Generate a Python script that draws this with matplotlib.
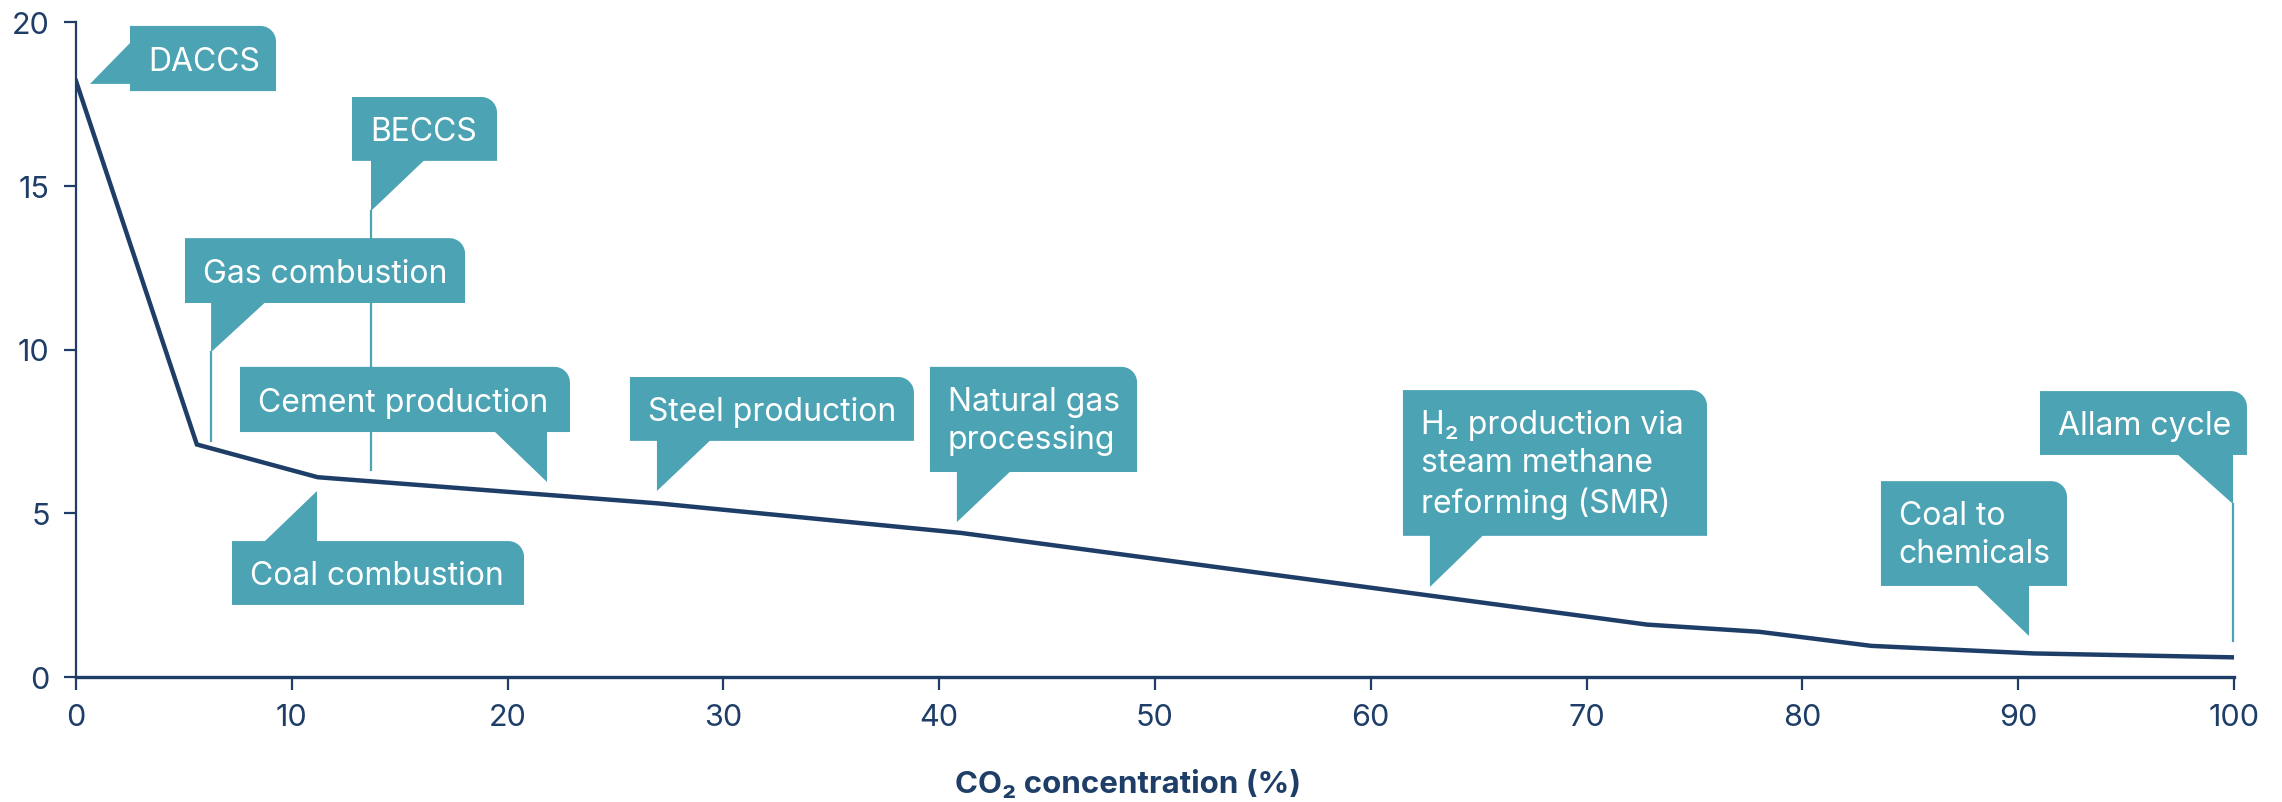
import matplotlib.pyplot as plt
import numpy as np
from matplotlib.patches import Polygon

plt.rcParams['font.family'] = ['Inter', 'DejaVu Sans']

# cost curve vs CO2 concentration
co2_pct = [0, 5.6, 11.2, 27, 41, 72.8, 78, 83.2, 90.7, 100]
cost = [18.2, 7.1, 6.1, 5.3, 4.4, 1.6, 1.38, 0.95, 0.72, 0.6]

x_ticks = [0, 10, 20, 30, 40, 50, 60, 70, 80, 90, 100]
y_ticks = [0, 5, 10, 15, 20]

labels = ['DACCS', 'BECCS', 'Gas combustion', 'Cement production',
          'Coal combustion', 'Steel production', 'Natural gas\nprocessing',
          'H\u2082 production via\nsteam methane\nreforming (SMR)',
          'Coal to\nchemicals', 'Allam cycle']

# callout layout (data coords): box x0, x1, y0, y1 / pointer triangle / leader line
boxes = [(2.50, 9.27, 17.89, 19.88), (12.79, 19.51, 15.76, 17.71),
         (5.05, 18.03, 11.42, 13.40), (7.60, 22.89, 7.48, 9.47),
         (7.23, 20.76, 2.20, 4.15), (25.67, 38.83, 7.21, 9.16),
         (39.57, 49.17, 6.26, 9.47), (61.49, 75.58, 4.31, 8.76),
         (83.64, 92.26, 2.78, 5.98), (91.01, 100.60, 6.78, 8.73)]
pointers = [[(2.55, 19.39), (0.65, 18.11), (2.55, 18.11)],
            [(13.67, 15.8), (13.67, 14.23), (16.17, 15.8)],
            [(6.26, 11.46), (6.26, 9.92), (8.80, 11.46)],
            [(19.37, 7.52), (21.83, 7.52), (21.83, 5.95)],
            [(8.71, 4.11), (11.17, 4.11), (11.17, 5.68)],
            [(26.92, 7.25), (29.43, 7.25), (26.92, 5.68)],
            [(40.82, 6.3), (43.33, 6.3), (40.82, 4.73)],
            [(62.74, 4.35), (65.24, 4.35), (62.74, 2.75)],
            [(88.04, 2.82), (90.50, 2.82), (90.50, 1.25)],
            [(97.36, 6.82), (99.95, 6.82), (99.95, 5.28)]]
leaders = [None, (13.67, 14.23, 6.32), (6.26, 9.92, 7.21), None, None,
           None, None, None, None, (99.95, 5.28, 1.10)]

navy = '#1e3e68'
teal = '#4ba3b4'


def rounded_box(x0, x1, y0, y1, rx=0.72, ry=0.48):
    t = np.linspace(np.pi / 2, 0, 12)
    arc = [(x1 - rx + rx * np.cos(a), y1 - ry + ry * np.sin(a)) for a in t]
    return [(x0, y0), (x0, y1)] + arc + [(x1, y0)]


fig = plt.figure(figsize=(22.82, 8.03), dpi=100)
ax = fig.add_axes([76 / 2282, 1 - 678 / 803, (2234 - 76) / 2282, (678 - 23) / 803])

ax.plot(co2_pct, cost, color=navy, lw=3.2, zorder=2, solid_joinstyle='miter')

for lab, b, p, ld in zip(labels, boxes, pointers, leaders):
    x0, x1, y0, y1 = b
    if ld is not None:
        ax.plot([ld[0], ld[0]], [ld[1], ld[2]], color=teal, lw=1.6, zorder=3,
                clip_on=False)
    ax.add_patch(Polygon(rounded_box(x0, x1, y0, y1), closed=True, fc=teal,
                         ec='none', zorder=4, clip_on=False))
    ax.add_patch(Polygon(p, closed=True, fc=teal, ec='none', zorder=4,
                         clip_on=False))
    dy = -0.08 if '\n' not in lab else -0.03
    ax.text(x0 + 0.83, (y0 + y1) / 2 + dy, lab, color='white', fontsize=23,
            ha='left', va='center', linespacing=1.3, zorder=5)

ax.set_xlim(0, 100)
ax.set_ylim(0, 20)
ax.set_xticks(x_ticks)
ax.set_yticks(y_ticks)
for s in ['top', 'right']:
    ax.spines[s].set_visible(False)
ax.spines['left'].set_linewidth(1.6)
ax.spines['bottom'].set_linewidth(2.4)
ax.spines['left'].set_color(navy)
ax.spines['bottom'].set_color(navy)
ax.tick_params(axis='both', colors=navy, labelsize=22, length=9, width=1.6,
               pad=10)

fig.text(1128 / 2282, 1 - 785 / 803, 'CO\u2082 concentration (%)', color=navy,
         fontsize=22.5, fontweight='bold', ha='center', va='center')

fig.savefig('out.png', dpi=100, facecolor='white')
